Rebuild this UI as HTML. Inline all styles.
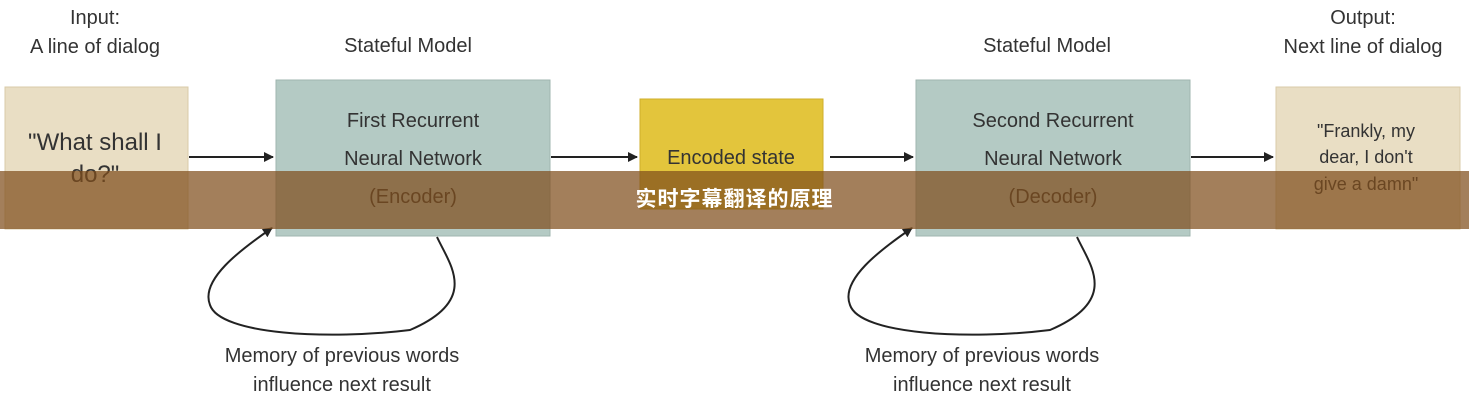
<!DOCTYPE html>
<html><head><meta charset="utf-8"><style>
body{margin:0;width:1469px;height:400px;background:#fff;overflow:hidden;position:relative;font-family:"Liberation Sans","Noto Sans CJK SC",sans-serif;}
svg{position:absolute;left:0;top:0}
.band{position:absolute;left:0;top:171px;width:1469px;height:58px;background:rgba(128,78,28,0.72);color:#fff;font-weight:bold;font-size:21px;text-align:center;line-height:58px;letter-spacing:1px}
</style></head><body>
<svg width="1469" height="400" viewBox="0 0 1469 400" font-family="Liberation Sans, sans-serif">
<defs><marker id="a" markerWidth="10" markerHeight="10" refX="9" refY="5" orient="auto" markerUnits="userSpaceOnUse"><path d="M0,0 L10,5 L0,10 z" fill="#222"/></marker></defs>
<g fill="#333" font-size="20" text-anchor="middle">
<text x="95" y="24">Input:</text><text x="95" y="53">A line of dialog</text>
<text x="408" y="52">Stateful Model</text>
<text x="1047" y="52">Stateful Model</text>
<text x="1363" y="24">Output:</text><text x="1363" y="53">Next line of dialog</text>
</g>
<rect x="5" y="87" width="183" height="142" fill="#e9dec4" stroke="#d9cba8"/>
<rect x="276" y="80" width="274" height="156" fill="#b4cac4" stroke="#9fb5af"/>
<rect x="640" y="99" width="183" height="110" fill="#e3c53c" stroke="#cfae2a"/>
<rect x="916" y="80" width="274" height="156" fill="#b4cac4" stroke="#9fb5af"/>
<rect x="1276" y="87" width="184" height="142" fill="#e9dec4" stroke="#d9cba8"/>
<g stroke="#222" stroke-width="2" fill="none" marker-end="url(#a)">
<line x1="189" y1="157" x2="273" y2="157"/>
<line x1="551" y1="157" x2="637" y2="157"/>
<line x1="830" y1="157" x2="913" y2="157"/>
<line x1="1191" y1="157" x2="1273" y2="157"/>
<path d="M437,237 C450,265 480,300 410,330 C330,340 220,335 210,305 C200,280 240,250 272,228"/>
<path d="M1077,237 C1090,265 1120,300 1050,330 C970,340 860,335 850,305 C840,280 880,250 912,228"/>
</g>
<g fill="#333" text-anchor="middle">
<text x="95" y="150" font-size="24">"What shall I</text><text x="95" y="182" font-size="24">do?"</text>
<text x="413" y="127" font-size="20">First Recurrent</text><text x="413" y="165" font-size="20">Neural Network</text><text x="413" y="203" font-size="20">(Encoder)</text>
<text x="731" y="164" font-size="20">Encoded state</text>
<text x="1053" y="127" font-size="20">Second Recurrent</text><text x="1053" y="165" font-size="20">Neural Network</text><text x="1053" y="203" font-size="20">(Decoder)</text>
<text x="1366" y="137" font-size="18">"Frankly, my</text><text x="1366" y="163" font-size="18">dear, I don't</text><text x="1366" y="190" font-size="18">give a damn"</text>
<text x="342" y="362" font-size="20">Memory of previous words</text><text x="342" y="391" font-size="20">influence next result</text>
<text x="982" y="362" font-size="20">Memory of previous words</text><text x="982" y="391" font-size="20">influence next result</text>
</g>
</svg>
<div class="band">实时字幕翻译的原理</div>
</body></html>
